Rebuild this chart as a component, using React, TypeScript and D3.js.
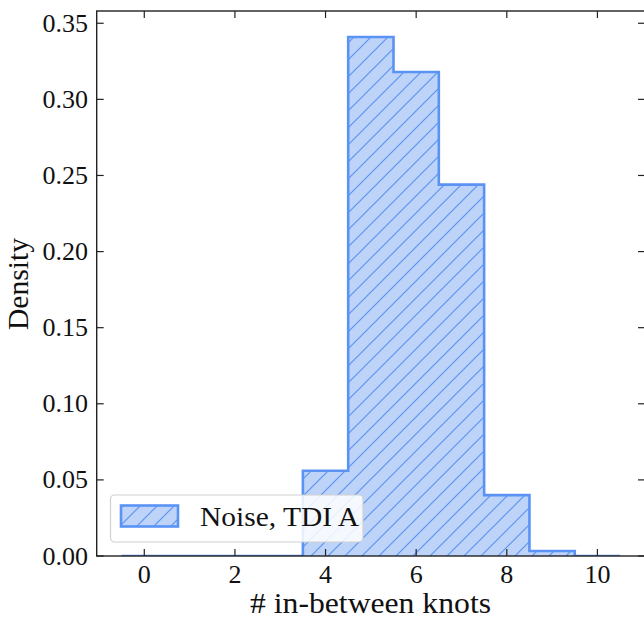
import React from "react";
import * as d3 from "d3";

const binCenters = [0, 1, 2, 3, 4, 5, 6, 7, 8, 9, 10];
const densities = [0, 0, 0, 0, 0.056, 0.341, 0.318, 0.244, 0.04, 0.0033, 0];
const xTickValues = [0, 2, 4, 6, 8, 10];
const yTickValues = [0, 0.05, 0.1, 0.15, 0.2, 0.25, 0.3, 0.35];
const seriesLabel = "Noise, TDI A";
const xLabel = "# in-between knots";
const yLabel = "Density";

const W = 644;
const H = 618;
const left = 96.7;
const right = 645;
const top = 11;
const bottom = 556;

const EDGE = "#5b93f5";
const FILL = "#bdd3f8";
const FONT = "'Liberation Serif', 'DejaVu Serif', serif";

export default function App() {
  const xMin = -0.5;
  const xMax = 10.5;
  const pad = (xMax - xMin) * 0.05;
  const x = d3.scaleLinear().domain([xMin - pad, xMax + pad]).range([left, right]);
  const yMaxData = d3.max(densities) as number;
  const y = d3.scaleLinear().domain([0, yMaxData * 1.05]).range([bottom, top]);

  const pts: [number, number][] = [];
  pts.push([x(xMin), y(0)]);
  binCenters.forEach((c, i) => {
    pts.push([x(c - 0.5), y(densities[i])]);
    pts.push([x(c + 0.5), y(densities[i])]);
  });
  pts.push([x(xMax), y(0)]);
  const line = d3.line();
  const stepPath = line(pts) as string;

  const tickLen = 7;
  const fs = 26;

  return (
    <svg width={W} height={H} style={{ position: "absolute", left: 0, top: 0 }}>
      <defs>
        <pattern id="hatch" patternUnits="userSpaceOnUse" width={17} height={17}>
          <rect width={17} height={17} fill={FILL} />
          <path d="M0,17 L17,0 M-4.25,4.25 L4.25,-4.25 M12.75,21.25 L21.25,12.75" stroke={EDGE} strokeWidth={1.2} />
        </pattern>
        <clipPath id="plotclip">
          <rect x={left} y={top} width={right - left} height={bottom - top} />
        </clipPath>
      </defs>
      <rect width={W} height={H} fill="white" />
      <g clipPath="url(#plotclip)">
        <path d={stepPath + "Z"} fill="url(#hatch)" stroke="none" />
        <path d={stepPath} fill="none" stroke={EDGE} strokeWidth={2.6} strokeLinejoin="miter" />
      </g>
      {/* spines */}
      <rect x={left} y={top} width={right - left} height={bottom - top} fill="none" stroke="#222" strokeWidth={1.4} />
      {/* x ticks */}
      {xTickValues.map((v) => (
        <g key={"x" + v}>
          <line x1={x(v)} x2={x(v)} y1={bottom} y2={bottom - tickLen} stroke="#222" strokeWidth={1.2} />
          <line x1={x(v)} x2={x(v)} y1={top} y2={top + tickLen} stroke="#222" strokeWidth={1.2} />
          <text x={x(v)} y={583} textAnchor="middle" fontFamily={FONT} fontSize={fs} fill="#111">
            {String(v)}
          </text>
        </g>
      ))}
      {yTickValues.map((v) => (
        <g key={"y" + v}>
          <line x1={left} x2={left + tickLen} y1={y(v)} y2={y(v)} stroke="#222" strokeWidth={1.2} />
          <line x1={right} x2={right - tickLen} y1={y(v)} y2={y(v)} stroke="#222" strokeWidth={1.2} />
          <text x={88} y={y(v) + 8.5} textAnchor="end" fontFamily={FONT} fontSize={fs} fill="#111">
            {d3.format(".2f")(v)}
          </text>
        </g>
      ))}
      <text x={250} y={613} textLength={241} lengthAdjust="spacingAndGlyphs" fontFamily={FONT} fontSize={29} fill="#111">
        {xLabel}
      </text>
      <text
        transform={`translate(28, 330) rotate(-90)`}
        textLength={92}
        lengthAdjust="spacingAndGlyphs"
        fontFamily={FONT}
        fontSize={29}
        fill="#111"
      >
        {yLabel}
      </text>
      {/* legend */}
      <g>
        <rect x={110.5} y={495} width={252.5} height={47} rx={4} fill="white" fillOpacity={0.85} stroke="#d0d0d0" strokeWidth={1.2} />
        <rect x={121} y={505.5} width={57} height={21} fill="url(#hatch)" stroke={EDGE} strokeWidth={2.6} />
        <text x={200} y={526} textLength={159} lengthAdjust="spacingAndGlyphs" fontFamily={FONT} fontSize={28} fill="#111">
          {seriesLabel}
        </text>
      </g>
    </svg>
  );
}
